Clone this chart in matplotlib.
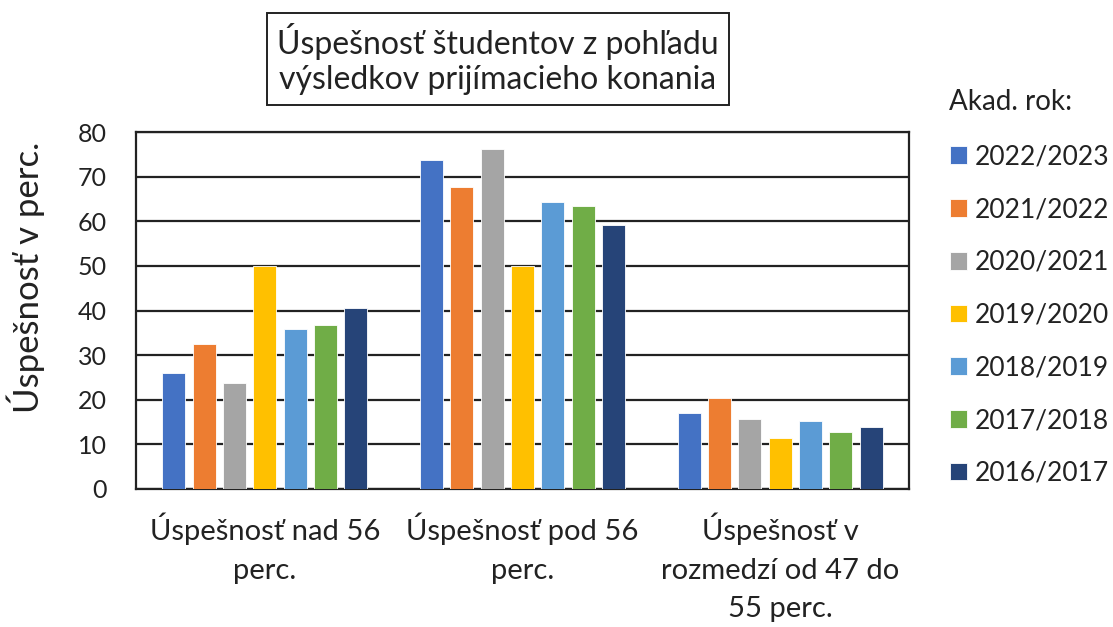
import matplotlib
matplotlib.use("Agg")
import matplotlib.pyplot as plt
from matplotlib.patches import Patch
import numpy as np

plt.rcParams['font.family'] = ['Lato', 'DejaVu Sans']

categories = ["Úspešnosť nad 56\nperc.", "Úspešnosť pod 56\nperc.", "Úspešnosť v\nrozmedzí od 47 do\n55 perc."]
years = ["2022/2023", "2021/2022", "2020/2021", "2019/2020", "2018/2019", "2017/2018", "2016/2017"]
values = {
    "2022/2023": [25.9, 73.7, 17.0],
    "2021/2022": [32.4, 67.7, 20.4],
    "2020/2021": [23.8, 76.2, 15.6],
    "2019/2020": [50.0, 50.0, 11.4],
    "2018/2019": [35.9, 64.3, 15.2],
    "2017/2018": [36.7, 63.4, 12.7],
    "2016/2017": [40.6, 59.1, 14.0],
}
colors = ["#4472C4", "#ED7D31", "#A5A5A5", "#FFC000", "#5B9BD5", "#70AD47", "#264478"]
TXT = '#222222'

fig = plt.figure(figsize=(11.13, 6.27), dpi=100)
ax = fig.add_axes([136/1113, 1-489/627, (909-136)/1113, (489-132)/627])

x = np.arange(len(categories))
pitch = 0.1176
width = 0.0893
handles = []
for i, (yr, c) in enumerate(zip(years, colors)):
    off = (i - 3) * pitch
    ax.bar(x + off, values[yr], width=width, color=c, edgecolor='white', linewidth=0.6, zorder=3)
    handles.append(Patch(facecolor=c, edgecolor='white', linewidth=0.6, label=yr))

ax.set_xlim(-0.5, 2.5)
ax.set_ylim(0, 80)
ax.set_yticks(range(0, 81, 10))
ax.yaxis.grid(True, color=TXT, linewidth=1.6, zorder=0)
ax.set_axisbelow(True)
for s in ax.spines.values():
    s.set_color(TXT)
    s.set_linewidth(1.6)
ax.tick_params(axis='y', length=0, pad=21, labelsize=18, labelcolor=TXT)
ax.tick_params(axis='x', length=0, pad=17, labelcolor=TXT)
ax.set_xticks(x)
ax.set_xticklabels(categories, fontsize=21, linespacing=1.6, color=TXT)
ax.set_ylabel("Úspešnosť v perc.", fontsize=25, color=TXT)
ax.yaxis.set_label_coords(-0.118, 0.594)

fig.text(498/1113, 1-59/627, "Úspešnosť študentov z pohľadu\nvýsledkov prijímacieho konania",
         ha='center', va='center', fontsize=23, color=TXT, linespacing=1.2,
         bbox=dict(boxstyle='square,pad=0.32', facecolor='white', edgecolor=TXT, linewidth=1.4))

fig.text(949/1113, 1-102/627, "Akad. rok:", ha='left', va='center', fontsize=20, color=TXT)

leg = fig.legend(handles=handles, loc='upper left', bbox_to_anchor=(939/1113, 1-134/627),
                 frameon=False, fontsize=19,
                 handlelength=0.65, handleheight=0.65, handletextpad=0.3, labelspacing=1.05,
                 borderaxespad=0)
for t in leg.get_texts():
    t.set_color(TXT)

fig.savefig("out.png", dpi=100)
